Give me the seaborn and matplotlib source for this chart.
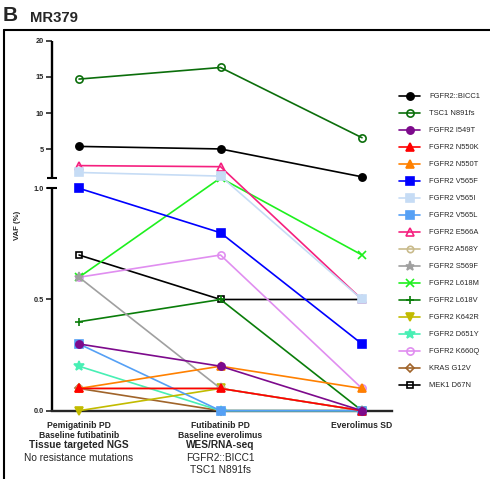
import numpy as np
import matplotlib
matplotlib.use("Agg")
import matplotlib.pyplot as plt
import seaborn as sns
from matplotlib.transforms import blended_transform_factory
from matplotlib.lines import Line2D

# ---------------- data ----------------
stages = ["Pemigatinib PD\nBaseline futibatinib",
          "Futibatinib PD\nBaseline everolimus",
          "Everolimus SD"]
assay_titles = ["Tissue targeted NGS", "WES/RNA-seq", ""]
assay_notes = [["No resistance mutations"], ["FGFR2::BICC1", "TSC1 N891fs"], []]

variants = ["FGFR2::BICC1", "TSC1 N891fs", "FGFR2 I549T", "FGFR2 N550K",
            "FGFR2 N550T", "FGFR2 V565F", "FGFR2 V565I", "FGFR2 V565L",
            "FGFR2 E566A", "FGFR2 A568Y", "FGFR2 S569F", "FGFR2 L618M",
            "FGFR2 L618V", "FGFR2 K642R", "FGFR2 D651Y", "FGFR2 K660Q",
            "KRAS G12V", "MEK1 D67N"]

vaf_bicc1 = [5.4, 5.05, 1.2]
vaf_tsc1 = [14.7, 16.3, 6.6]
vaf_i549t = [0.3, 0.2, 0.0]
vaf_n550k = [0.1, 0.1, 0.0]
vaf_n550t = [0.1, 0.2, 0.1]
vaf_v565f = [1.0, 0.8, 0.3]
vaf_v565i = [1.8, 1.3, 0.5]
vaf_v565l = [0.3, 0.0, 0.0]
vaf_e566a = [2.75, 2.6, 0.5]
vaf_a568y = [0.1, 0.1, 0.0]
vaf_s569f = [0.6, 0.1, 0.0]
vaf_l618m = [0.6, 1.05, 0.7]
vaf_l618v = [0.4, 0.5, 0.0]
vaf_k642r = [0.0, 0.1, 0.0]
vaf_d651y = [0.2, 0.0, 0.0]
vaf_k660q = [0.6, 0.7, 0.1]
vaf_kras = [0.1, 0.0, 0.0]
vaf_mek1 = [0.7, 0.5, 0.5]

series = [vaf_bicc1, vaf_tsc1, vaf_i549t, vaf_n550k, vaf_n550t, vaf_v565f,
          vaf_v565i, vaf_v565l, vaf_e566a, vaf_a568y, vaf_s569f, vaf_l618m,
          vaf_l618v, vaf_k642r, vaf_d651y, vaf_k660q, vaf_kras, vaf_mek1]

ytick_vals = [0, 0.5, 1.0, 5, 10, 15, 20]
ytick_labels = ["0.0", "0.5", "1.0", "5", "10", "15", "20"]

# ---------------- styles ----------------
colors = ["#000000", "#0b6e0b", "#7d0a8c", "#ff0000", "#ff8000", "#0000ff",
          "#c6dcf5", "#55a0f5", "#f5207f", "#c9bb8c", "#a0a0a0", "#1ef01e",
          "#0a7d0a", "#c2bb00", "#48efb4", "#e08ef0", "#a0642a", "#000000"]
markers = ["o", "o", "o", "^", "^", "s", "s", "s", "^", "o", "*", "x",
           "+", "v", "*", "o", "D", "s"]
filled = [True, False, True, True, True, True, True, True, False, False,
          True, True, True, True, True, False, False, False]
msizes = [5.2, 5.2, 5.2, 5.6, 5.6, 5.2, 5.2, 5.2, 5.6, 4.6, 6.5, 5.6,
          6.0, 5.6, 7.0, 5.2, 4.4, 5.0]

sns.set_style("ticks")
plt.rcParams["font.family"] = ["Liberation Sans", "DejaVu Sans"]

W, H = 490, 479
fig = plt.figure(figsize=(W / 100, H / 100), dpi=100)
ax = fig.add_axes([52 / W, 1 - 410.7 / H, 340 / W, 370 / H])

# broken (segmented) y axis: 0-1 lower segment, 1-20 compressed upper segment
K = 7.24 / 222.4
GAP = 10 / 222.4


def fwd(y):
    y = np.asarray(y, dtype=float)
    return np.where(y <= 1, y, 1 + GAP + (y - 1) * K)


def inv(f):
    f = np.asarray(f, dtype=float)
    return np.where(f <= 1, f, np.where(f <= 1 + GAP, 1.0, 1 + (f - 1 - GAP) / K))


ax.set_yscale("function", functions=(fwd, inv))

xpos = list(range(len(stages)))
n = len(variants)
for i in range(n):
    col = colors[i]
    sns.lineplot(x=xpos, y=series[i], ax=ax, sort=False, errorbar=None,
                 color=col, linewidth=1.2, marker=markers[i],
                 markersize=msizes[i], markeredgecolor=col,
                 markerfacecolor=col if filled[i] else "none",
                 markeredgewidth=1.2, label=variants[i], clip_on=False)
if ax.get_legend() is not None:
    ax.get_legend().remove()
for i, line in enumerate(ax.lines):
    line.set_zorder(60 - i)
    line.set_clip_on(False)

# axes cosmetics
for s in ["left", "right", "top"]:
    ax.spines[s].set_visible(False)
ax.spines["bottom"].set_linewidth(1.7)
ax.spines["bottom"].set_zorder(5)

handles, labels = ax.get_legend_handles_labels()

ytr = ax.get_yaxis_transform()
ax.add_line(Line2D([0, 0], [0, 1.0], transform=ytr, color="k", lw=1.7,
                   clip_on=False, solid_capstyle="butt"))
ax.add_line(Line2D([0, 0], [1.0001, 20], transform=ytr, color="k", lw=1.7,
                   clip_on=False, solid_capstyle="butt"))
ax.add_line(Line2D([0, 0], [1.0, 1.0001], transform=ytr, color="k",
                   linestyle="none", marker="_", markersize=7, mew=1.5,
                   clip_on=False))

ax.set_ylim(0, 20)
ax.set_xlim(-0.191, 2.212)

ax.set_yticks(ytick_vals)
ax.set_yticklabels(ytick_labels, fontsize=5.3, fontweight="bold")
ax.tick_params(axis="y", length=4.5, width=1.2, pad=1.2, direction="out")
ax.set_xticks(xpos)
ax.set_xticklabels(stages, fontsize=6.2, fontweight="bold", linespacing=1.1)
ax.tick_params(axis="x", length=2.5, width=1.2, pad=5, direction="out")
ax.set_xlabel("")
ax.set_ylabel("VAF (%)", fontsize=5.6, fontweight="bold")
ax.yaxis.set_label_coords((21 - 52) / 340, 0.5)

# extra category annotations under tick labels
btr = blended_transform_factory(ax.transData, fig.transFigure)
for i in xpos:
    if assay_titles[i]:
        ax.text(i, 1 - 448.0 / H, assay_titles[i], transform=btr, ha="center",
                va="baseline", fontsize=7.3, fontweight="bold")
    for j, note in enumerate(assay_notes[i]):
        ax.text(i, 1 - (461.0 + 12 * j) / H, note, transform=btr, ha="center",
                va="baseline", fontsize=7.3)

# legend
fig.legend(handles, labels, loc="upper left",
           bbox_to_anchor=(399 / W, 1 - 93 / H), frameon=False, fontsize=5.4,
           handlelength=2.8, handletextpad=1.2, labelspacing=1.3,
           borderpad=0, borderaxespad=0)

# panel title and frame
fig.text(3 / W, 1 - 15.5 / H, "B", fontsize=15, fontweight="bold", va="center")
fig.text(30 / W, 1 - 18 / H, "MR379", fontsize=10.7, fontweight="bold", va="center")
fig.add_artist(Line2D([3.5 / W, 3.5 / W], [0, 1 - 30 / H], transform=fig.transFigure,
                      color="k", lw=1.5))
fig.add_artist(Line2D([3.5 / W, 1], [1 - 30 / H, 1 - 30 / H], transform=fig.transFigure,
                      color="k", lw=1.5))

fig.savefig("out.png", dpi=100)
